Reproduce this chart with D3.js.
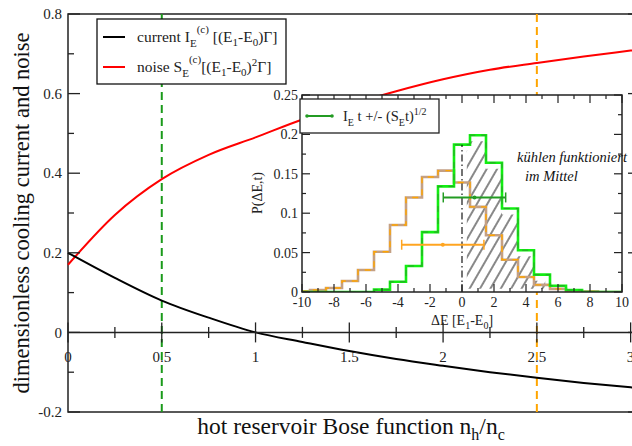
<!DOCTYPE html>
<html><head><meta charset="utf-8">
<script src="https://cdn.jsdelivr.net/npm/d3@7"></script>
<style>
html,body{margin:0;padding:0;background:#fff;}
svg{display:block;font-family:"Liberation Serif","Times New Roman",serif;}
</style></head>
<body><svg id="c" width="632" height="446"></svg>
<script>
// ---------- main plot data ----------
const nRatio   = [0, 0.25, 0.5, 0.75, 1, 1.25, 1.5, 1.75, 2, 2.25, 2.5, 2.75, 3, 3.05];
const currentI = [0.2, 0.137, 0.08, 0.037, 0, -0.024, -0.047, -0.067, -0.084, -0.1, -0.114, -0.127, -0.138, -0.14];
const noiseS   = [0.17, 0.295, 0.385, 0.446, 0.49, 0.535, 0.572, 0.606, 0.636, 0.66, 0.677, 0.693, 0.708, 0.711];
const markerGreen  = 0.5;
const markerOrange = 2.5;
const mainXTicks = [0, 0.5, 1, 1.5, 2, 2.5, 3];
const mainXMinor = [0.25, 0.75, 1.25, 1.75, 2.25, 2.75];
const mainYTicks = [-0.2, 0, 0.2, 0.4, 0.6, 0.8];
const mainYMinor = [-0.1, 0.1, 0.3, 0.5, 0.7];

// ---------- inset data ----------
const dE = [-10,-9,-8,-7,-6,-5,-4,-3,-2,-1,0,1,2,3,4,5,6,7,8,9,10];
const pOrange = [0.001,0.0025,0.005,0.014,0.028,0.051,0.085,0.12,0.146,0.154,0.139,0.108,0.072,0.041,0.019,0.009,0.004,0.0017,0.0008,0,0];
const pGreen  = [0,0,0,0,0,0.003,0.013,0.033,0.076,0.134,0.187,0.199,0.164,0.106,0.053,0.022,0.008,0.0025,0,0,0];
const errGreen  = {mean: 0.78, sd: 1.95, level: 0.12};
const errOrange = {mean: -1.2, sd: 2.57, level: 0.06};
const insetXTicks = [-10,-8,-6,-4,-2,0,2,4,6,8,10];
const insetXMinor = [-9,-7,-5,-3,-1,1,3,5,7,9];
const insetYTicks = [0, 0.05, 0.1, 0.15, 0.2, 0.25];
const insetYMinor = [0.025, 0.075, 0.125, 0.175, 0.225];
const hatchRange = [0.3, 5.2];

const svg = d3.select("#c");
const x = d3.scaleLinear([0, 3.05], [68, 640]);
const y = d3.scaleLinear([-0.2, 0.8], [412, 14]);
const fmt = d => (d === 0 ? "0" : String(d));

// frame
svg.append("rect").attr("x", x(0)).attr("y", y(0.8))
  .attr("width", x(3.05) - x(0)).attr("height", y(-0.2) - y(0.8))
  .attr("fill", "none").attr("stroke", "#222").attr("stroke-width", 1.5);

// dashed vertical markers
[[markerGreen, "#1a9a1a"], [markerOrange, "#ffa500"]].forEach(([v, c]) => {
  svg.append("line").attr("x1", x(v)).attr("x2", x(v)).attr("y1", y(0.8)).attr("y2", y(-0.2))
    .attr("stroke", c).attr("stroke-width", 2).attr("stroke-dasharray", "8,5");
});

// curves
const lineMain = vals => d3.line().x((d, i) => x(nRatio[i])).y(d => y(d)).curve(d3.curveMonotoneX)(vals);
svg.append("path").attr("d", lineMain(noiseS)).attr("fill", "none").attr("stroke", "#ff0000").attr("stroke-width", 2);
svg.append("path").attr("d", lineMain(currentI)).attr("fill", "none").attr("stroke", "#000").attr("stroke-width", 2);

// zero axis
svg.append("line").attr("x1", x(0)).attr("x2", x(3.05)).attr("y1", y(0)).attr("y2", y(0))
  .attr("stroke", "#222").attr("stroke-width", 1.5);
mainXTicks.forEach(t => {
  svg.append("line").attr("x1", x(t)).attr("x2", x(t)).attr("y1", y(0) - 10).attr("y2", y(0) + 10)
    .attr("stroke", "#222").attr("stroke-width", 1.3);
  svg.append("text").attr("x", x(t)).attr("y", 362).attr("text-anchor", "middle")
    .attr("font-size", 15).attr("fill", "#222").text(fmt(t));
});
mainXMinor.forEach(t => {
  svg.append("line").attr("x1", x(t)).attr("x2", x(t)).attr("y1", y(0) - 5.5).attr("y2", y(0) + 5.5)
    .attr("stroke", "#222").attr("stroke-width", 1.3);
});
// y ticks left & right
mainYTicks.forEach(t => {
  svg.append("line").attr("x1", x(0)).attr("x2", x(0) + 12).attr("y1", y(t)).attr("y2", y(t)).attr("stroke", "#222").attr("stroke-width", 1.3);
  svg.append("line").attr("x1", x(3.05)).attr("x2", x(3.05) - 12).attr("y1", y(t)).attr("y2", y(t)).attr("stroke", "#222").attr("stroke-width", 1.3);
  svg.append("text").attr("x", 62).attr("y", y(t)).attr("dy", "0.35em").attr("text-anchor", "end")
    .attr("font-size", 15).attr("fill", "#222").text(fmt(t));
});
mainYMinor.forEach(t => {
  svg.append("line").attr("x1", x(0)).attr("x2", x(0) + 6).attr("y1", y(t)).attr("y2", y(t)).attr("stroke", "#222").attr("stroke-width", 1.3);
  svg.append("line").attr("x1", x(3.05)).attr("x2", x(3.05) - 6).attr("y1", y(t)).attr("y2", y(t)).attr("stroke", "#222").attr("stroke-width", 1.3);
});

// axis titles
svg.append("text").attr("transform", "translate(29,213) rotate(-90)").attr("text-anchor", "middle")
  .attr("font-size", 22.5).attr("fill", "#111").text("dimensionless cooling current and noise");
const xt = svg.append("text").attr("x", 351).attr("y", 434).attr("text-anchor", "middle")
  .attr("font-size", 23.5).attr("fill", "#111");
xt.append("tspan").text("hot reservoir Bose function n");
xt.append("tspan").attr("dy", 6).attr("font-size", 16).text("h");
xt.append("tspan").attr("dy", -6).text("/n");
xt.append("tspan").attr("dy", 6).attr("font-size", 16).text("c");

// main legend
svg.append("rect").attr("x", 97).attr("y", 19).attr("width", 189).attr("height", 65)
  .attr("fill", "#fff").attr("stroke", "#111").attr("stroke-width", 1.3);
svg.append("line").attr("x1", 103).attr("x2", 125).attr("y1", 37).attr("y2", 37).attr("stroke", "#000").attr("stroke-width", 2);
svg.append("line").attr("x1", 103).attr("x2", 125).attr("y1", 67).attr("y2", 67).attr("stroke", "#ff0000").attr("stroke-width", 2);
const l1 = svg.append("text").attr("x", 137).attr("y", 42).attr("font-size", 15.5).attr("fill", "#222");
l1.append("tspan").text("current I");
l1.append("tspan").attr("dy", 5).attr("font-size", 11).text("E");
l1.append("tspan").attr("dy", -14).attr("font-size", 11).text("(c)");
l1.append("tspan").attr("dy", 9).text("  [(E");
l1.append("tspan").attr("dy", 4).attr("font-size", 11).text("1");
l1.append("tspan").attr("dy", -4).text("-E");
l1.append("tspan").attr("dy", 4).attr("font-size", 11).text("0");
l1.append("tspan").attr("dy", -4).text(")Γ]");
const l2 = svg.append("text").attr("x", 137).attr("y", 72).attr("font-size", 15.5).attr("fill", "#222");
l2.append("tspan").text("noise S");
l2.append("tspan").attr("dy", 5).attr("font-size", 11).text("E");
l2.append("tspan").attr("dy", -14).attr("font-size", 11).text("(c)");
l2.append("tspan").attr("dy", 9).text("[(E");
l2.append("tspan").attr("dy", 4).attr("font-size", 11).text("1");
l2.append("tspan").attr("dy", -4).text("-E");
l2.append("tspan").attr("dy", 4).attr("font-size", 11).text("0");
l2.append("tspan").attr("dy", -4).text(")");
l2.append("tspan").attr("dy", -6).attr("font-size", 11).text("2");
l2.append("tspan").attr("dy", 6).text("Γ]");

// ---------- inset ----------
const xi = d3.scaleLinear([-10, 10], [302, 622]);
const yi = d3.scaleLinear([0, 0.25], [292, 95]);
svg.append("rect").attr("x", xi(-10)).attr("y", yi(0.25)).attr("width", xi(10) - xi(-10)).attr("height", yi(0) - yi(0.25))
  .attr("fill", "#fff");

const defs = svg.append("defs");
defs.append("clipPath").attr("id", "insetClip").append("rect")
  .attr("x", xi(-10)).attr("y", yi(0.25)).attr("width", xi(10) - xi(-10)).attr("height", yi(0) - yi(0.25));
const pat = defs.append("pattern").attr("id", "hatch").attr("patternUnits", "userSpaceOnUse")
  .attr("width", 9).attr("height", 9).attr("patternTransform", "rotate(30)");
pat.append("line").attr("x1", 2).attr("x2", 2).attr("y1", 0).attr("y2", 9).attr("stroke", "#111").attr("stroke-width", 1);

const gi = svg.append("g").attr("clip-path", "url(#insetClip)");
const step = vals => d3.line().x((d, i) => xi(dE[i])).y(d => yi(d)).curve(d3.curveStep)(vals);

// hatch region under the green histogram
const hatchPts = dE.map((v, i) => ({v, p: pGreen[i]})).filter(d => d.v >= Math.floor(hatchRange[0]) && d.v <= Math.ceil(hatchRange[1]));
gi.append("clipPath").attr("id", "hatchClip").append("rect")
  .attr("x", xi(hatchRange[0])).attr("y", yi(0.25)).attr("width", xi(hatchRange[1]) - xi(hatchRange[0])).attr("height", yi(0.004) - yi(0.25));
gi.append("path").attr("clip-path", "url(#hatchClip)")
  .attr("d", d3.area().x(d => xi(d.v)).y0(yi(0)).y1(d => yi(d.p) + 6).curve(d3.curveStep)(hatchPts))
  .attr("fill", "url(#hatch)");

// histograms
gi.append("path").attr("d", step(pOrange)).attr("fill", "none").attr("stroke", "#c4a084").attr("stroke-width", 2.6);
gi.append("path").attr("d", step(pOrange)).attr("fill", "none").attr("stroke", "#ffa500").attr("stroke-width", 1.4).attr("stroke-dasharray", "6,6");
gi.append("path").attr("d", step(pGreen)).attr("fill", "none").attr("stroke", "#11ee11").attr("stroke-width", 2.6);
gi.append("path").attr("d", step(pGreen)).attr("fill", "none").attr("stroke", "#2aa02a").attr("stroke-width", 1).attr("stroke-dasharray", "6,6");

// dash-dot at dE = 0
gi.append("line").attr("x1", xi(0)).attr("x2", xi(0)).attr("y1", yi(0)).attr("y2", yi(pGreen[dE.indexOf(0)]))
  .attr("stroke", "#000").attr("stroke-width", 1.1).attr("stroke-dasharray", "7,3,1.5,3");

// error bars
[[errGreen, "#239b23"], [errOrange, "#ffa520"]].forEach(([e, c]) => {
  const yy = yi(e.level);
  gi.append("line").attr("x1", xi(e.mean - e.sd)).attr("x2", xi(e.mean + e.sd)).attr("y1", yy).attr("y2", yy).attr("stroke", c).attr("stroke-width", 2);
  [e.mean - e.sd, e.mean + e.sd].forEach(v => gi.append("line").attr("x1", xi(v)).attr("x2", xi(v)).attr("y1", yy - 5).attr("y2", yy + 5).attr("stroke", c).attr("stroke-width", 1.5));
  gi.append("circle").attr("cx", xi(e.mean)).attr("cy", yy).attr("r", 2).attr("fill", c);
});

// inset frame & ticks
svg.append("rect").attr("x", xi(-10)).attr("y", yi(0.25)).attr("width", xi(10) - xi(-10)).attr("height", yi(0) - yi(0.25))
  .attr("fill", "none").attr("stroke", "#222").attr("stroke-width", 1.5);
insetXTicks.forEach(t => {
  svg.append("line").attr("x1", xi(t)).attr("x2", xi(t)).attr("y1", yi(0)).attr("y2", yi(0) - 8).attr("stroke", "#222").attr("stroke-width", 1.2);
  svg.append("line").attr("x1", xi(t)).attr("x2", xi(t)).attr("y1", yi(0.25)).attr("y2", yi(0.25) + 8).attr("stroke", "#222").attr("stroke-width", 1.2);
  svg.append("text").attr("x", xi(t)).attr("y", 307).attr("text-anchor", "middle").attr("font-size", 14).attr("fill", "#222").text(t);
});
insetXMinor.forEach(t => {
  svg.append("line").attr("x1", xi(t)).attr("x2", xi(t)).attr("y1", yi(0)).attr("y2", yi(0) - 4).attr("stroke", "#222").attr("stroke-width", 1.2);
  svg.append("line").attr("x1", xi(t)).attr("x2", xi(t)).attr("y1", yi(0.25)).attr("y2", yi(0.25) + 4).attr("stroke", "#222").attr("stroke-width", 1.2);
});
insetYTicks.forEach(t => {
  svg.append("line").attr("x1", xi(-10)).attr("x2", xi(-10) + 8).attr("y1", yi(t)).attr("y2", yi(t)).attr("stroke", "#222").attr("stroke-width", 1.2);
  svg.append("line").attr("x1", xi(10)).attr("x2", xi(10) - 8).attr("y1", yi(t)).attr("y2", yi(t)).attr("stroke", "#222").attr("stroke-width", 1.2);
  svg.append("text").attr("x", 298).attr("y", yi(t)).attr("dy", "0.35em").attr("text-anchor", "end").attr("font-size", 14).attr("fill", "#222").text(fmt(t));
});
insetYMinor.forEach(t => {
  svg.append("line").attr("x1", xi(-10)).attr("x2", xi(-10) + 4).attr("y1", yi(t)).attr("y2", yi(t)).attr("stroke", "#222").attr("stroke-width", 1.2);
  svg.append("line").attr("x1", xi(10)).attr("x2", xi(10) - 4).attr("y1", yi(t)).attr("y2", yi(t)).attr("stroke", "#222").attr("stroke-width", 1.2);
});
svg.append("text").attr("transform", "translate(262,193) rotate(-90)").attr("text-anchor", "middle")
  .attr("font-size", 14).attr("fill", "#222").text("P(ΔE,t)");
const ixl = svg.append("text").attr("x", 462).attr("y", 325).attr("text-anchor", "middle").attr("font-size", 14).attr("fill", "#222");
ixl.append("tspan").text("ΔE [E");
ixl.append("tspan").attr("dy", 4).attr("font-size", 10).text("1");
ixl.append("tspan").attr("dy", -4).text("-E");
ixl.append("tspan").attr("dy", 4).attr("font-size", 10).text("0");
ixl.append("tspan").attr("dy", -4).text("]");

// inset legend
svg.append("rect").attr("x", 300).attr("y", 99).attr("width", 139).attr("height", 34)
  .attr("fill", "#fff").attr("stroke", "#222").attr("stroke-width", 1.3);
svg.append("line").attr("x1", 307).attr("x2", 332).attr("y1", 116).attr("y2", 116).attr("stroke", "#239b23").attr("stroke-width", 2);
[307, 332].forEach(v => svg.append("circle").attr("cx", v).attr("cy", 116).attr("r", 1.8).attr("fill", "#239b23"));
const il = svg.append("text").attr("x", 343).attr("y", 121).attr("font-size", 14.5).attr("fill", "#222");
il.append("tspan").text("I");
il.append("tspan").attr("dy", 5).attr("font-size", 10).text("E");
il.append("tspan").attr("dy", -5).text(" t +/- (S");
il.append("tspan").attr("dy", 5).attr("font-size", 10).text("E");
il.append("tspan").attr("dy", -5).text("t)");
il.append("tspan").attr("dy", -6).attr("font-size", 10).text("1/2");

// handwritten note
svg.append("text").attr("x", 517).attr("y", 162).attr("font-size", 14.5).attr("font-style", "italic")
  .attr("fill", "#111").text("kühlen funktioniert");
svg.append("text").attr("x", 525).attr("y", 181).attr("font-size", 14.5).attr("font-style", "italic")
  .attr("fill", "#111").text("im Mittel");
</script></body></html>
